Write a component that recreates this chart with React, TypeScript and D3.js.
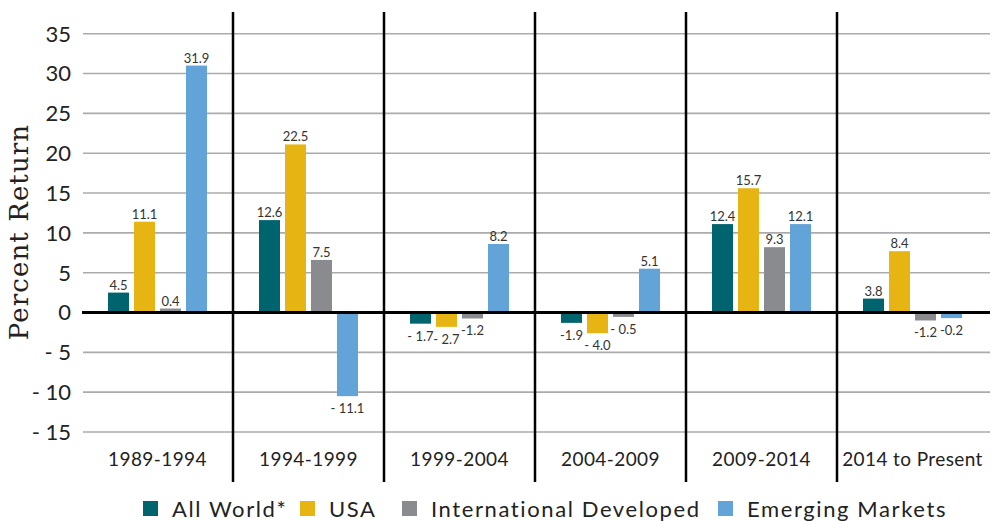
import React, { useEffect } from "react";
import * as d3 from "d3";

const categories = ["1989-1994", "1994-1999", "1999-2004", "2004-2009", "2009-2014", "2014 to Present"];
const seriesNames = ["All World*", "USA", "International Developed", "Emerging Markets"];
const seriesColors = ["#00646f", "#e6b513", "#898b8e", "#62a3d8"];

// bar heights as drawn in the picture
const allWorld = [2.5, 11.6, -1.4, -1.3, 11.1, 1.75];
const usa = [11.4, 21.1, -1.8, -2.6, 15.6, 7.7];
const intlDeveloped = [0.5, 6.6, -0.75, -0.55, 8.2, -1.0];
const emerging = [31.0, -10.5, 8.6, 5.5, 11.1, -0.7];

// printed value labels
const allWorldLabels = ["4.5", "12.6", "- 1.7", "-1.9", "12.4", "3.8"];
const usaLabels = ["11.1", "22.5", "- 2.7", "- 4.0", "15.7", "8.4"];
const intlDevelopedLabels = ["0.4", "7.5", "-1.2", "- 0.5", "9.3", "-1.2"];
const emergingLabels = ["31.9", "- 11.1", "8.2", "5.1", "12.1", "-0.2"];

const yTicks = [35, 30, 25, 20, 15, 10, 5, 0, -5, -10, -15];
const legendX = [143, 300, 402, 718];

const W = 994;
const H = 521;
const SANS = "Lato, 'Open Sans', sans-serif";

export default function App() {
  useEffect(() => {
    document.body.style.margin = "0";
  }, []);

  const values = [allWorld, usa, intlDeveloped, emerging];
  const labels = [allWorldLabels, usaLabels, intlDevelopedLabels, emergingLabels];

  const x = d3.scaleBand<string>().domain(categories).range([82, 988]);
  const y = d3.scaleLinear().domain([-15, 35]).range([432, 33.7]);
  const bw = x.bandwidth();
  const inner = d3
    .scaleBand<string>()
    .domain(seriesNames)
    .range([bw / 2 - 49.5, bw / 2 + 49.5])
    .paddingInner(5 / 26)
    .paddingOuter(0);
  const barW = inner.bandwidth();
  const y0 = y(0);

  return (
    <svg width={W} height={H} style={{ display: "block", background: "#fff" }}>
      {/* gridlines */}
      {yTicks.filter((t) => t !== 0).map((t) => (
        <line key={"g" + t} x1={83} x2={990} y1={y(t)} y2={y(t)} stroke="#ababab" strokeWidth={1.6} />
      ))}
      {/* tick labels */}
      {yTicks.map((t) => (
        <text
          key={"t" + t}
          x={71}
          y={y(t)}
          dy="0.36em"
          textAnchor="end"
          fontFamily={SANS}
          fontSize={22}
          fill="#222"
        >
          {t < 0 ? "- " + Math.abs(t) : String(t)}
        </text>
      ))}
      {/* y axis title */}
      <text
        transform={`translate(28,${232}) rotate(-90)`}
        textAnchor="middle"
        fontFamily="'DejaVu Serif', serif"
        fontSize={26}
        letterSpacing={1.1}
        fill="#222"
      >
        Percent Return
      </text>
      {/* bars */}
      {categories.map((c, i) => (
        <g key={c} transform={`translate(${x(c)},0)`}>
          {seriesNames.map((s, k) => {
            const v = values[k][i];
            const bx = inner(s) as number;
            const top = v >= 0 ? y(v) : y0;
            const h = Math.abs(y(v) - y0);
            return (
              <g key={s}>
                <rect x={bx} y={top} width={barW} height={h} fill={seriesColors[k]} />
                <text
                  x={bx + barW / 2}
                  y={v >= 0 ? y(v) - 3 : y(v) + 17}
                  textAnchor="middle"
                  fontFamily={SANS}
                  fontSize={13}
                  fill="#333"
                >
                  {labels[k][i]}
                </text>
              </g>
            );
          })}
        </g>
      ))}
      {/* zero line */}
      <line x1={82} x2={990} y1={y0} y2={y0} stroke="#000" strokeWidth={3} />
      {/* separators */}
      {categories.slice(1).map((c) => (
        <line key={"s" + c} x1={x(c)} x2={x(c)} y1={12} y2={482} stroke="#000" strokeWidth={2.5} />
      ))}
      {/* category labels */}
      {categories.map((c) => (
        <text
          key={"c" + c}
          x={(x(c) as number) + bw / 2}
          y={466}
          textAnchor="middle"
          fontFamily={SANS}
          fontSize={19}
          letterSpacing={0.4}
          fill="#222"
        >
          {c}
        </text>
      ))}
      {/* legend */}
      {seriesNames.map((s, k) => (
        <g key={"l" + s} transform={`translate(${legendX[k]},501)`}>
          <rect x={0} y={0} width={15} height={15} fill={seriesColors[k]} />
          <text x={29} y={16} fontFamily={SANS} fontSize={22} fill="#222" letterSpacing={1.6}>
            {s}
          </text>
        </g>
      ))}
    </svg>
  );
}
